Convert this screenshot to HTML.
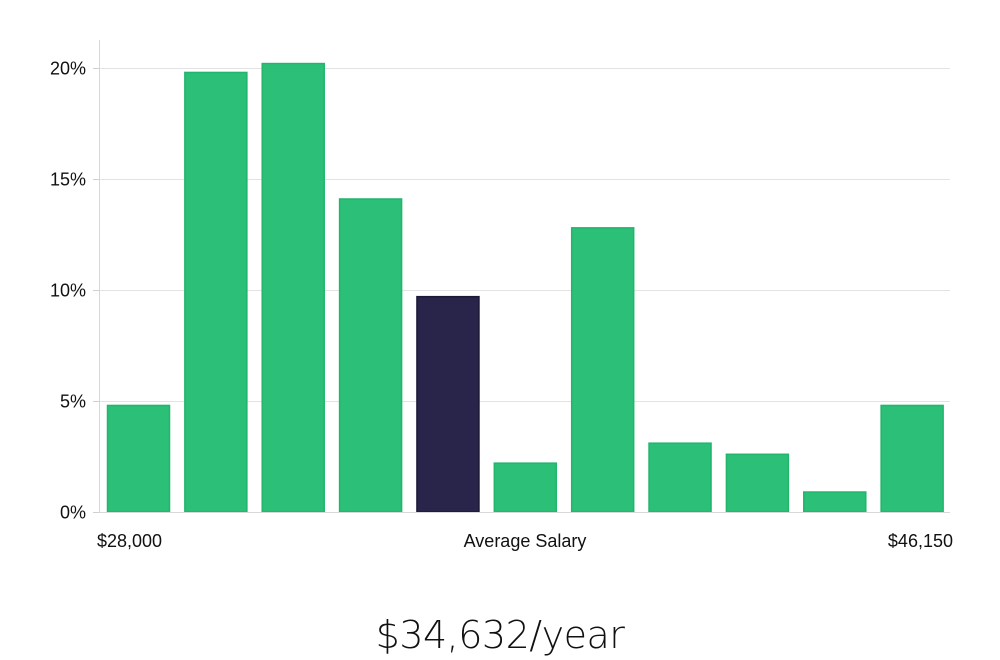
<!DOCTYPE html>
<html><head><meta charset="utf-8">
<style>
body{margin:0;background:#fff;width:1000px;height:660px;overflow:hidden;font-family:"Liberation Sans","DejaVu Sans",sans-serif;}
svg{display:block}
</style></head>
<body>
<svg id="chart" width="1000" height="660" viewBox="0 0 1000 660" xmlns="http://www.w3.org/2000/svg">
<g id="grid"></g>
<line x1="99.5" y1="40" x2="99.5" y2="512" stroke="#d8d8d8"/>
<g id="yticks"></g>
<g id="bars"></g>
<line x1="99" y1="512.5" x2="950" y2="512.5" stroke="#d8d8d8"/>
<text x="97" y="547" font-size="18" fill="#111">$28,000</text>
<text x="525" y="547" font-size="18" fill="#111" text-anchor="middle">Average Salary</text>
<text x="953" y="547" font-size="18" fill="#111" text-anchor="end">$46,150</text>
<text x="500" y="648" font-size="38" fill="#111" text-anchor="middle" font-family="'DejaVu Sans','Liberation Sans',sans-serif" font-weight="200" letter-spacing="-0.5">$34,632/year</text>
</svg>
<script>
const values = [4.8, 19.8, 20.2, 14.1, 9.7, 2.2, 12.8, 3.1, 2.6, 0.9, 4.8];
const highlightIndex = [4];
const tickValues = [0, 5, 10, 15, 20];
const tickLabels = ["0%", "5%", "10%", "15%", "20%"];

const NS = "http://www.w3.org/2000/svg";
const x0 = 99, x1 = 950, y0 = 512, yTop20 = 68;
const yScale = v => y0 - (v / 20) * (y0 - yTop20);
const band = (x1 - x0) / values.length;
const xScale = i => x0 + i * band;

const grid = document.getElementById('grid');
const yt = document.getElementById('yticks');
tickValues.forEach((t, i) => {
  const y = Math.round(yScale(t)) + 0.5;
  if (t > 0) {
    const l = document.createElementNS(NS, 'line');
    
    
    l.setAttribute('x1', x0); l.setAttribute('x2', x1);
    l.setAttribute('y1', y); l.setAttribute('y2', y);
    l.setAttribute('stroke', '#e3e3e3');
    grid.appendChild(l);
  }
  const tk = document.createElementNS(NS, 'line');
  
  
  tk.setAttribute('x1', x0 - 6); tk.setAttribute('x2', x0);
  tk.setAttribute('y1', y); tk.setAttribute('y2', y);
  tk.setAttribute('stroke', '#d0d0d0');
  yt.appendChild(tk);
  const tx = document.createElementNS(NS, 'text');
  
  
  tx.setAttribute('x', x0 - 13); tx.setAttribute('y', y + 6);
  tx.setAttribute('text-anchor', 'end');
  tx.setAttribute('font-size', '18'); tx.setAttribute('fill', '#111');
  tx.textContent = tickLabels[i];
  yt.appendChild(tx);
});

const bars = document.getElementById('bars');
values.forEach((v, i) => {
  const r = document.createElementNS(NS, 'rect');
  
  
  const hi = highlightIndex.includes(i);
  const y = yScale(v);
  r.setAttribute('x', xScale(i) + 8.5);
  r.setAttribute('y', y);
  r.setAttribute('width', 62);
  r.setAttribute('height', y0 - y);
  r.setAttribute('fill', hi ? '#29244a' : '#2bbf77');
  r.setAttribute('stroke', hi ? '#1d1838' : '#22b56c');
  r.setAttribute('stroke-width', '1.5');
  bars.appendChild(r);
});
</script>
</body></html>
